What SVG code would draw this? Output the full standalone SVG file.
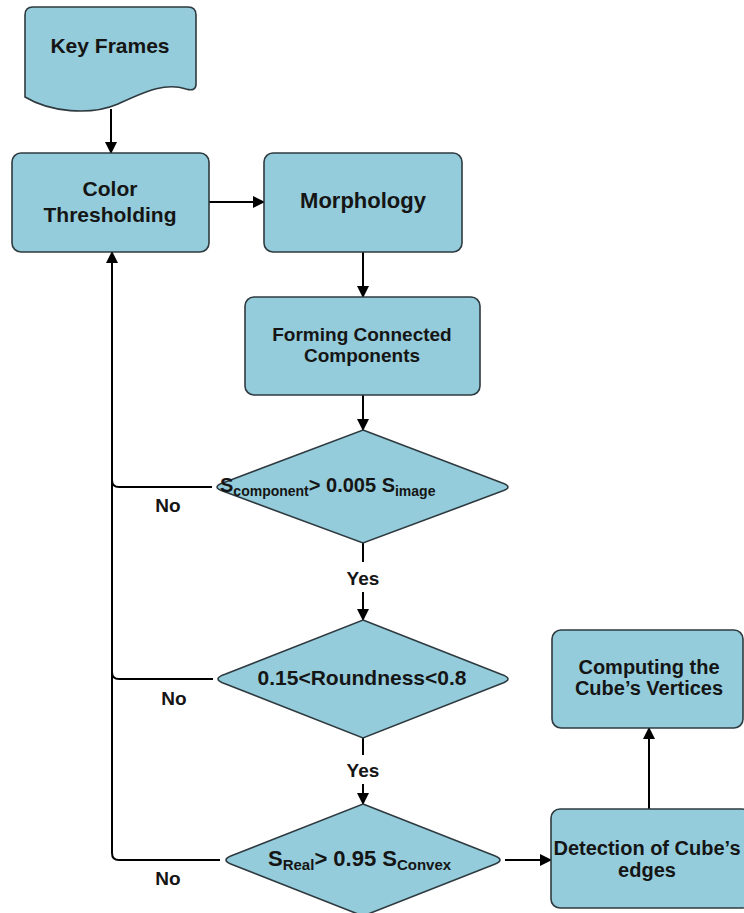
<svg xmlns="http://www.w3.org/2000/svg" width="744" height="913" viewBox="0 0 744 913">
<defs>
<marker id="arr" markerWidth="12" markerHeight="12" refX="11" refY="6" orient="auto" markerUnits="userSpaceOnUse">
<path d="M0,0 L12,6 L0,12 Z" fill="#000"/>
</marker>
</defs>
<style>
.n{fill:#94CCDB;stroke:#2E3A3F;stroke-width:1.6}
.t{font-family:"Liberation Sans",Arial,sans-serif;font-weight:bold;fill:#151515;text-anchor:middle}
.c{fill:none;stroke:#000;stroke-width:2}
.l{font-family:"Liberation Sans",Arial,sans-serif;font-weight:bold;fill:#151515;text-anchor:middle;font-size:19px}
</style>
<rect width="744" height="913" fill="#fff"/>
<g id="connectors">
<line class="c" x1="111" y1="109" x2="111" y2="153" marker-end="url(#arr)"/>
<line class="c" x1="209" y1="202" x2="264" y2="202" marker-end="url(#arr)"/>
<line class="c" x1="363" y1="252" x2="363" y2="297" marker-end="url(#arr)"/>
<line class="c" x1="363" y1="395" x2="363" y2="430" marker-end="url(#arr)"/>
<line class="c" x1="363" y1="543" x2="363" y2="562"/>
<line class="c" x1="363" y1="592" x2="363" y2="620" marker-end="url(#arr)"/>
<line class="c" x1="363" y1="738" x2="363" y2="755"/>
<line class="c" x1="363" y1="784" x2="363" y2="804" marker-end="url(#arr)"/>
<path class="c" d="M220,860 L119,860 Q112,860 112,853 L112,252" marker-end="url(#arr)"/>
<path class="c" d="M212,487 L119,487 Q112,487 112,480"/>
<path class="c" d="M213,679 L119,679 Q112,679 112,672"/>
<line class="c" x1="505" y1="860" x2="551" y2="860" marker-end="url(#arr)"/>
<line class="c" x1="649" y1="809" x2="649" y2="728" marker-end="url(#arr)"/>
<text class="l" x="168" y="512">No</text>
<text class="l" x="174" y="705">No</text>
<text class="l" x="168" y="885">No</text>
<text class="l" x="363" y="585">Yes</text>
<text class="l" x="363" y="777">Yes</text>
</g>
<g id="keyframes">
<path class="n" d="M25,97 L25,15 Q25,7 33,7 L188,7 Q196,7 196,15 L196,84 Q196,92 186,89 C165,82 145,92 118,104 C90,116 50,112 25,97 Z"/>
<text class="t" x="110" y="53" font-size="21">Key Frames</text>
</g>
<g id="color">
<rect class="n" x="12" y="153" width="197" height="99" rx="9"/>
<text class="t" x="110" y="196" font-size="21">Color</text>
<text class="t" x="110" y="222" font-size="21">Thresholding</text>
</g>
<g id="morphology">
<rect class="n" x="264" y="153" width="198" height="99" rx="9"/>
<text class="t" x="363" y="208" font-size="22">Morphology</text>
</g>
<g id="forming">
<rect class="n" x="245" y="297" width="235" height="98" rx="9"/>
<text class="t" x="362" y="341" font-size="19">Forming Connected</text>
<text class="t" x="362" y="362" font-size="19">Components</text>
</g>
<g id="decision1">
<path class="n" d="M363,430 L501,482.4 Q515,487 501,491.6 L363,543 L224,491.6 Q210,487 224,482.4 Z"/>
<text class="t" x="220" y="492" font-size="20" style="text-anchor:start">S<tspan font-size="14" dy="4">component</tspan><tspan dy="-4">&gt; 0.005 S</tspan><tspan font-size="14" dy="4">image</tspan></text>
</g>
<g id="decision2">
<path class="n" d="M363,620 L501,674.3 Q515,679 501,683.7 L363,738 L225,683.7 Q211,679 225,674.3 Z"/>
<text class="t" x="362" y="685" font-size="21">0.15&lt;Roundness&lt;0.8</text>
</g>
<g id="decision3">
<path class="n" d="M363,804 L494,855.5 Q506,860 494,864.5 L363,916 L232,864.5 Q220,860 232,855.5 Z"/>
<text class="t" x="268" y="866" font-size="22" style="text-anchor:start">S<tspan font-size="15" dy="4">Real</tspan><tspan dy="-4">&gt; 0.95 S</tspan><tspan font-size="15" dy="4">Convex</tspan></text>
</g>
<g id="detection">
<rect class="n" x="551" y="809" width="200" height="99" rx="9"/>
<text class="t" x="647" y="855" font-size="20">Detection of Cube’s</text>
<text class="t" x="647" y="877" font-size="20">edges</text>
</g>
<g id="computing">
<rect class="n" x="552" y="630" width="191" height="98" rx="9"/>
<text class="t" x="649" y="674" font-size="20">Computing the</text>
<text class="t" x="649" y="695" font-size="20">Cube’s Vertices</text>
</g>
</svg>
